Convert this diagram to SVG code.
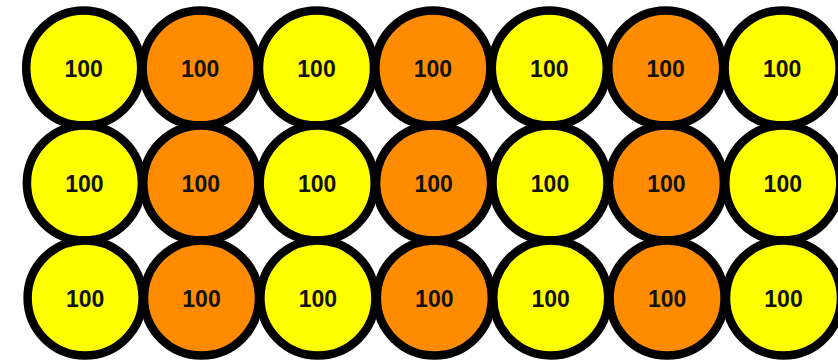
<svg xmlns="http://www.w3.org/2000/svg" width="838" height="360" viewBox="0 0 838 360">
<style>
.c{stroke:#000;stroke-width:8.5}
.y{fill:#FFFF00}
.o{fill:#FF8C00}
text{font-family:"Liberation Sans",Arial,sans-serif;font-weight:bold;font-size:23px;fill:#111;text-anchor:middle}
</style>
<rect width="838" height="360" fill="#fff"/>
<g id="connectors"/>
<g id="n1-1"><circle class="c y" cx="83.7" cy="68" r="57.5"/><text x="83.7" y="76.5">100</text></g>
<g id="n1-2"><circle class="c o" cx="200.1" cy="68" r="57.5"/><text x="200.1" y="76.5">100</text></g>
<g id="n1-3"><circle class="c y" cx="316.5" cy="68" r="57.5"/><text x="316.5" y="76.5">100</text></g>
<g id="n1-4"><circle class="c o" cx="432.9" cy="68" r="57.5"/><text x="432.9" y="76.5">100</text></g>
<g id="n1-5"><circle class="c y" cx="549.3" cy="68" r="57.5"/><text x="549.3" y="76.5">100</text></g>
<g id="n1-6"><circle class="c o" cx="665.7" cy="68" r="57.5"/><text x="665.7" y="76.5">100</text></g>
<g id="n1-7"><circle class="c y" cx="782.1" cy="68" r="57.5"/><text x="782.1" y="76.5">100</text></g>
<g id="n2-1"><circle class="c y" cx="84.4" cy="183" r="57.5"/><text x="84.4" y="191.5">100</text></g>
<g id="n2-2"><circle class="c o" cx="200.8" cy="183" r="57.5"/><text x="200.8" y="191.5">100</text></g>
<g id="n2-3"><circle class="c y" cx="317.2" cy="183" r="57.5"/><text x="317.2" y="191.5">100</text></g>
<g id="n2-4"><circle class="c o" cx="433.6" cy="183" r="57.5"/><text x="433.6" y="191.5">100</text></g>
<g id="n2-5"><circle class="c y" cx="550" cy="183" r="57.5"/><text x="550" y="191.5">100</text></g>
<g id="n2-6"><circle class="c o" cx="666.4" cy="183" r="57.5"/><text x="666.4" y="191.5">100</text></g>
<g id="n2-7"><circle class="c y" cx="782.8" cy="183" r="57.5"/><text x="782.8" y="191.5">100</text></g>
<g id="n3-1"><circle class="c y" cx="85.1" cy="298" r="57.5"/><text x="85.1" y="306.5">100</text></g>
<g id="n3-2"><circle class="c o" cx="201.5" cy="298" r="57.5"/><text x="201.5" y="306.5">100</text></g>
<g id="n3-3"><circle class="c y" cx="317.9" cy="298" r="57.5"/><text x="317.9" y="306.5">100</text></g>
<g id="n3-4"><circle class="c o" cx="434.3" cy="298" r="57.5"/><text x="434.3" y="306.5">100</text></g>
<g id="n3-5"><circle class="c y" cx="550.7" cy="298" r="57.5"/><text x="550.7" y="306.5">100</text></g>
<g id="n3-6"><circle class="c o" cx="667.1" cy="298" r="57.5"/><text x="667.1" y="306.5">100</text></g>
<g id="n3-7"><circle class="c y" cx="783.5" cy="298" r="57.5"/><text x="783.5" y="306.5">100</text></g>
</svg>
